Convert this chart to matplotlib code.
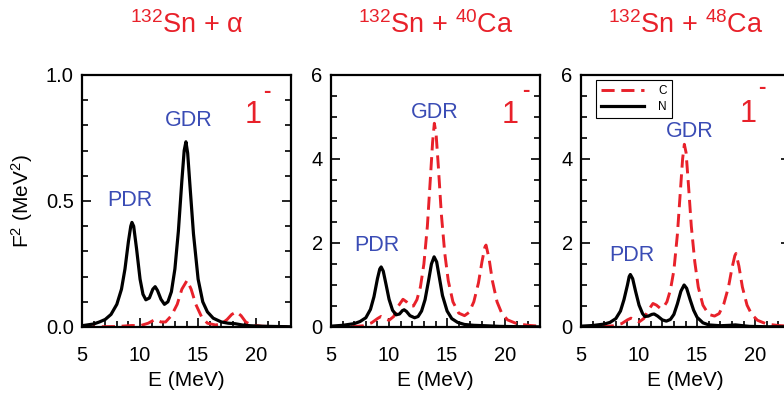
import matplotlib
matplotlib.use("Agg")
import matplotlib.pyplot as plt
from matplotlib.ticker import MultipleLocator, FormatStrFormatter

plt.rcParams['font.family'] = ['Liberation Sans', 'DejaVu Sans']
plt.rcParams['mathtext.fontset'] = 'custom'
plt.rcParams['mathtext.rm'] = 'Liberation Sans'
plt.rcParams['mathtext.it'] = 'Liberation Sans:italic'
plt.rcParams['mathtext.bf'] = 'Liberation Sans:bold'

RED = "#e8212a"
BLUE = "#3a4cb5"

# ---------------- data ----------------
titles = [r"$^{132}$Sn + α", r"$^{132}$Sn + $^{40}$Ca", r"$^{132}$Sn + $^{48}$Ca"]

# 132Sn + alpha
E_N_a = [5.0, 6.0, 6.5, 7.0, 7.5, 8.0, 8.4, 8.7, 9.0, 9.2, 9.3, 9.45, 9.7, 10.0, 10.25, 10.5,
         10.8, 11.1, 11.3, 11.5, 11.8, 12.1, 12.4, 12.7, 13.0, 13.3, 13.6, 13.8, 13.95, 14.1,
         14.3, 14.6, 15.0, 15.4, 15.8, 16.3, 17.0, 17.6, 18.2, 18.8, 19.5, 20.5, 23.0]
F_N_a = [0.005, 0.012, 0.02, 0.03, 0.05, 0.09, 0.15, 0.23, 0.34, 0.40, 0.415, 0.40, 0.31, 0.19,
         0.13, 0.108, 0.115, 0.15, 0.16, 0.145, 0.11, 0.09, 0.10, 0.14, 0.23, 0.38, 0.58, 0.70,
         0.735, 0.69, 0.56, 0.37, 0.19, 0.10, 0.06, 0.035, 0.02, 0.015, 0.013, 0.008, 0.005,
         0.003, 0.001]
E_C_a = [5.0, 8.0, 9.3, 10.0, 10.7, 11.3, 11.8, 12.2, 12.7, 13.2, 13.6, 14.05, 14.4, 14.8,
         15.3, 15.8, 16.5, 17.0, 17.5, 17.9, 18.3, 18.7, 19.1, 19.6, 20.5, 23.0]
F_C_a = [0.0, 0.002, 0.006, 0.005, 0.015, 0.03, 0.02, 0.02, 0.045, 0.09, 0.15, 0.185, 0.15,
         0.09, 0.04, 0.015, 0.008, 0.012, 0.03, 0.05, 0.06, 0.045, 0.02, 0.008, 0.003, 0.0]

# 132Sn + 40Ca
E_N_40 = [5.0, 6.0, 7.0, 7.5, 8.0, 8.4, 8.7, 9.0, 9.2, 9.32, 9.5, 9.75, 10.0, 10.3, 10.6, 10.9,
          11.15, 11.3, 11.5, 11.8, 12.2, 12.5, 12.8, 13.1, 13.4, 13.65, 13.88, 14.1, 14.35,
          14.6, 15.0, 15.4, 15.9, 16.5, 17.3, 18.3, 19.5, 21.0, 23.0]
F_N_40 = [0.02, 0.04, 0.08, 0.13, 0.22, 0.42, 0.72, 1.15, 1.38, 1.43, 1.33, 1.0, 0.66, 0.40,
          0.29, 0.31, 0.39, 0.41, 0.37, 0.27, 0.22, 0.25, 0.38, 0.65, 1.1, 1.5, 1.67, 1.55,
          1.15, 0.75, 0.38, 0.2, 0.11, 0.06, 0.04, 0.03, 0.015, 0.008, 0.004]
E_C_40 = [5.0, 7.0, 7.8, 8.5, 9.0, 9.3, 9.6, 10.0, 10.4, 10.8, 11.2, 11.5, 11.8, 12.1, 12.4,
          12.7, 13.0, 13.3, 13.55, 13.75, 13.9, 14.05, 14.25, 14.5, 14.8, 15.1, 15.5, 16.0,
          16.5, 16.9, 17.3, 17.7, 18.0, 18.25, 18.35, 18.6, 18.9, 19.3, 19.7, 20.2, 21.0,
          22.0, 23.0]
F_C_40 = [0.0, 0.01, 0.03, 0.1, 0.2, 0.25, 0.2, 0.16, 0.25, 0.5, 0.66, 0.6, 0.5, 0.5, 0.65,
          0.95, 1.5, 2.4, 3.5, 4.4, 4.85, 4.6, 3.8, 2.7, 1.75, 1.1, 0.6, 0.33, 0.27, 0.35, 0.6,
          1.05, 1.55, 1.9, 1.95, 1.65, 1.1, 0.6, 0.33, 0.17, 0.08, 0.04, 0.02]

# 132Sn + 48Ca
E_N_48 = [5.0, 6.0, 7.0, 7.5, 8.0, 8.4, 8.7, 9.0, 9.15, 9.25, 9.45, 9.7, 10.0, 10.3, 10.5,
          10.8, 11.1, 11.3, 11.6, 12.0, 12.35, 12.7, 13.0, 13.3, 13.6, 13.88, 14.1, 14.4,
          14.7, 15.0, 15.5, 16.0, 17.0, 17.8, 18.3, 18.8, 19.5, 21.0, 23.0]
F_N_48 = [0.02, 0.035, 0.07, 0.11, 0.2, 0.38, 0.65, 1.0, 1.2, 1.25, 1.15, 0.85, 0.52, 0.32,
          0.25, 0.26, 0.3, 0.31, 0.26, 0.17, 0.14, 0.18, 0.3, 0.55, 0.85, 1.0, 0.92, 0.65,
          0.4, 0.23, 0.1, 0.05, 0.03, 0.04, 0.05, 0.035, 0.015, 0.006, 0.003]
E_C_48 = E_C_40
F_C_48 = [0.0, 0.01, 0.03, 0.08, 0.17, 0.21, 0.17, 0.12, 0.2, 0.4, 0.56, 0.52, 0.45, 0.47,
          0.6, 0.88, 1.35, 2.2, 3.2, 4.0, 4.35, 4.15, 3.4, 2.4, 1.55, 0.95, 0.52, 0.3, 0.26,
          0.32, 0.55, 0.95, 1.4, 1.7, 1.75, 1.45, 0.95, 0.52, 0.3, 0.16, 0.07, 0.035, 0.02]

panels = [
    dict(EN=E_N_a, FN=F_N_a, EC=E_C_a, FC=F_C_a, ylim=(0, 1.0), major=0.5, minor=0.1, fmt="%.1f",
         pdr=(0.230, 0.50), gdr=(0.512, 0.821), one=(0.78, 0.81), minus=(0.885, 0.935)),
    dict(EN=E_N_40, FN=F_N_40, EC=E_C_40, FC=F_C_40, ylim=(0, 6), major=2, minor=0.5, fmt="%d",
         pdr=(0.22, 0.325), gdr=(0.498, 0.853), one=(0.818, 0.81), minus=(0.93, 0.94)),
    dict(EN=E_N_48, FN=F_N_48, EC=E_C_48, FC=F_C_48, ylim=(0, 6), major=2, minor=0.5, fmt="%d",
         pdr=(0.244, 0.282), gdr=(0.522, 0.774), one=(0.761, 0.813), minus=(0.865, 0.95)),
]

W, H = 784, 398
fig = plt.figure(figsize=(W / 100, H / 100), dpi=100)
lefts = [82, 331, 581]
ax_w, ax_top, ax_bot = 209, 75, 327

for i, p in enumerate(panels):
    ax = fig.add_axes([lefts[i] / W, (H - ax_bot) / H, ax_w / W, (ax_bot - ax_top) / H])
    ax.plot(p["EC"], p["FC"], color=RED, lw=2.1, dashes=(4.5, 2.3), label="C", zorder=2)
    ax.plot(p["EN"], p["FN"], color="black", lw=2.3, label="N", zorder=3)
    ax.set_xlim(5, 23)
    ax.set_ylim(*p["ylim"])
    ax.xaxis.set_major_locator(MultipleLocator(5))
    ax.xaxis.set_minor_locator(MultipleLocator(1))
    ax.yaxis.set_major_locator(MultipleLocator(p["major"]))
    ax.yaxis.set_minor_locator(MultipleLocator(p["minor"]))
    ax.yaxis.set_major_formatter(FormatStrFormatter(p["fmt"]))
    ax.tick_params(which="both", direction="in", right=True, top=False, width=1.2)
    ax.tick_params(which="major", length=6.5)
    ax.tick_params(which="minor", length=4.3)
    ax.tick_params(axis="x", which="major", pad=14, labelsize=14.5)
    ax.tick_params(axis="y", which="major", pad=6, labelsize=14.5)
    for s in ax.spines.values():
        s.set_linewidth(1.6)

    ax.text(*p["pdr"], "PDR", color=BLUE, fontsize=15.5, ha="center", va="center",
            transform=ax.transAxes)
    ax.text(*p["gdr"], "GDR", color=BLUE, fontsize=15.5, ha="center", va="center",
            transform=ax.transAxes)
    ax.text(*p["one"], "1", color=RED, fontsize=22, ha="left", va="baseline",
            transform=ax.transAxes)
    ax.text(*p["minus"], "-", color=RED, fontsize=16, fontweight="bold", ha="center",
            va="center", transform=ax.transAxes)

    cx = (lefts[i] + ax_w / 2) / W
    fig.text(cx, 1 - 33 / H, titles[i], color=RED, fontsize=19.5, ha="center", va="baseline")
    fig.text(cx, 1 - 386 / H, "E (MeV)", fontsize=15, ha="center", va="baseline")

    if i == 2:
        leg = ax.legend(loc="upper left", bbox_to_anchor=(0.072, 0.98), borderaxespad=0,
                        fontsize=8.5, handlelength=3.6, frameon=True, fancybox=False,
                        edgecolor="black", framealpha=1, borderpad=0.45, labelspacing=0.3,
                        handletextpad=1.2)
        leg.get_frame().set_linewidth(0.8)

fig.text(22 / W, 1 - 201 / H, r"F$^2$ (MeV$^2$)", fontsize=15, rotation=90,
         ha="center", va="center")

fig.savefig("out.png", dpi=100)
